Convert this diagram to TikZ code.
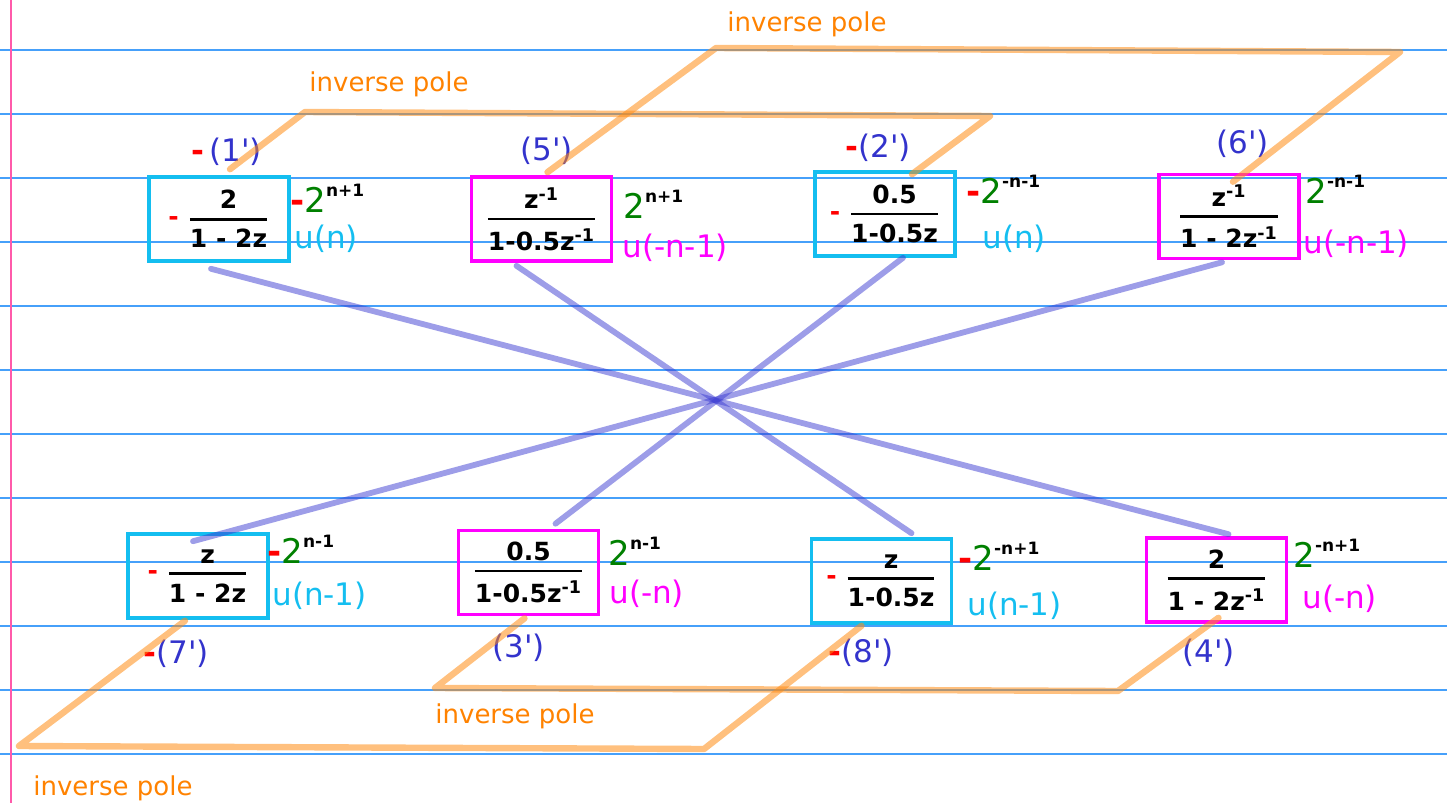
\documentclass[tikz,border=0pt]{standalone}
\usepackage{amsmath}
\usepackage{fontspec}
\setmainfont{DejaVu Sans}
\usepackage{tikz}
\usetikzlibrary{calc}
\definecolor{rulecol}{RGB}{70,160,250}
\definecolor{marginpink}{RGB}{255,90,170}
\definecolor{boxcyan}{RGB}{20,190,240}
\definecolor{boxmag}{RGB}{255,0,255}
\definecolor{idxblue}{RGB}{51,51,204}
\definecolor{sign}{RGB}{255,0,0}
\definecolor{grn}{RGB}{0,128,0}
\definecolor{poleline}{RGB}{255,140,20}
\definecolor{poletext}{RGB}{255,130,0}
\definecolor{crossline}{RGB}{60,60,210}
\newcommand{\hfrac}[2]{\(\genfrac{}{}{1.4pt}{0}{\text{#1}}{\text{#2}}\)}
\newcommand{\zinv}{z\textsuperscript{-1}}
\newcommand{\sgn}{\textcolor{sign}{\bfseries -}}
\newcommand{\pw}[1]{\textcolor{grn}{2}\raisebox{8pt}{\fontsize{8.5}{9}\selectfont\bfseries #1}}

\begin{document}
\begin{tikzpicture}[
  x=0.5pt, y=-0.5pt,
  ruled/.style={draw=rulecol, line width=0.6pt},
  margin/.style={draw=marginpink, line width=1.2pt},
  posbox/.style={draw=boxcyan, line width=1.8pt, minimum width=70pt, minimum height=42pt,
                 inner sep=0pt, font=\fontsize{12.5}{14}\selectfont\bfseries},
  negbox/.style={posbox, draw=boxmag},
  idx/.style={text=idxblue, font=\fontsize{15.5}{18}\selectfont, inner sep=0pt, anchor=base west},
  expo/.style={font=\fontsize{17}{20}\selectfont, inner sep=0pt, anchor=base west},
  ulab/.style={font=\fontsize{15.5}{18}\selectfont, inner sep=0pt, anchor=base west},
  pole/.style={draw=poleline, line width=3.2pt, opacity=0.55, line cap=round, line join=round},
  xline/.style={draw=crossline, line width=2.9pt, opacity=0.5, line cap=round},
  plab/.style={text=poletext, font=\fontsize{13}{15}\selectfont, inner sep=0pt}]
  \useasboundingbox (0,0) rectangle (1447,803);
  % notebook paper
  \foreach \ry in {50,114,...,754}
    \draw[ruled] (0,\ry) -- (1447,\ry);
  \draw[margin] (11,0) -- (11,803);

  % transfer functions
  \node[posbox] (b1) at (219,219)    {\sgn\ \hfrac{2}{1 - 2z}};
  \node[negbox] (b5) at (541.5,219)  {\hfrac{\zinv}{1-0.5\zinv}};
  \node[posbox] (b2) at (885,214)    {\sgn\ \hfrac{0.5}{1-0.5z}};
  \node[negbox] (b6) at (1229,216.5) {\hfrac{\zinv}{1 - 2\zinv}};
  \node[posbox] (b7) at (198,576)    {\sgn\ \hfrac{z}{1 - 2z}};
  \node[negbox] (b3) at (528.5,572.5) {\hfrac{0.5}{1-0.5\zinv}};
  \node[posbox] (b8) at (881.5,581)  {\sgn\ \hfrac{z}{1-0.5z}};
  \node[negbox] (b4) at (1216.5,580) {\hfrac{2}{1 - 2\zinv}};

  % pair labels
  \node[idx] (i1) at (191,161)  {\sgn\,(1\textquotesingle)};
  \node[idx] (i5) at (520,160)  {(5\textquotesingle)};
  \node[idx] (i2) at (845,157)  {\sgn(2\textquotesingle)};
  \node[idx] (i6) at (1216,153) {(6\textquotesingle)};
  \node[idx] (i7) at (143,663)  {\sgn(7\textquotesingle)};
  \node[idx] (i3) at (492,657)  {(3\textquotesingle)};
  \node[idx] (i8) at (828,662)  {\sgn(8\textquotesingle)};
  \node[idx] (i4) at (1182,662) {(4\textquotesingle)};

  % sequences
  \node[expo] (e1) at (290,212)  {\sgn\pw{n+1}};
  \node[expo] (e5) at (623,218)  {\pw{n+1}};
  \node[expo] (e2) at (966,203)  {\sgn\pw{-n-1}};
  \node[expo] (e6) at (1305,203) {\pw{-n-1}};
  \node[expo] (e7) at (267,563)  {\sgn\pw{n-1}};
  \node[expo] (e3) at (608,565)  {\pw{n-1}};
  \node[expo] (e8) at (958,570)  {\sgn\pw{-n+1}};
  \node[expo] (e4) at (1293,567) {\pw{-n+1}};
  \node[ulab, text=boxcyan] (u1) at (294,248)  {u(n)};
  \node[ulab, text=boxmag]  (u5) at (622,257)  {u(-n-1)};
  \node[ulab, text=boxcyan] (u2) at (982,248)  {u(n)};
  \node[ulab, text=boxmag]  (u6) at (1303,253) {u(-n-1)};
  \node[ulab, text=boxcyan] (u7) at (272,605)  {u(n-1)};
  \node[ulab, text=boxmag]  (u3) at (609,603)  {u(-n)};
  \node[ulab, text=boxcyan] (u8) at (967,615)  {u(n-1)};
  \node[ulab, text=boxmag]  (u4) at (1302,608) {u(-n)};

  % inverse poles
  \coordinate (t1a) at (305,112);
  \coordinate (t1b) at (990,116);
  \coordinate (t2a) at (716,48);
  \coordinate (t2b) at (1400,52);
  \coordinate (d1a) at (435,688);
  \coordinate (d1b) at (1118,691);
  \coordinate (d2a) at (19,746);
  \coordinate (d2b) at (704,749);
  \draw[pole] ($(b1.north)+(11,-6)$) -- (t1a) -- (t1b) -- ($(b2.north)+(27,4)$);
  \draw[pole] ($(b5.north)+(6,-3)$) -- (t2a) -- (t2b) -- ($(b6.north)+(4,9)$);
  \draw[pole] ($(b3.south)+(-4,2)$) -- (d1a) -- (d1b) -- ($(b4.south)+(2,-6)$);
  \draw[pole] ($(b7.south)+(-13,1)$) -- (d2a) -- (d2b) -- ($(b8.south)+(-20,1)$);
  \node[plab] (p1) at (389,84)  {inverse pole};
  \node[plab] (p2) at (807,24)  {inverse pole};
  \node[plab] (p3) at (515,716) {inverse pole};
  \node[plab] (p4) at (113,788) {inverse pole};

  % same-sign pairs
  \draw[xline] ($(b1.south)+(-8,6)$) -- ($(b4.north)+(12,-2)$);
  \draw[xline] ($(b5.south)+(-25,3)$) -- ($(b8.north)+(30,-4)$);
  \draw[xline] ($(b2.south)+(18,0)$) -- ($(b3.north)+(27,-5)$);
  \draw[xline] ($(b6.south)+(-7,2)$) -- ($(b7.north)+(-5,9)$);
\end{tikzpicture}
\end{document}
